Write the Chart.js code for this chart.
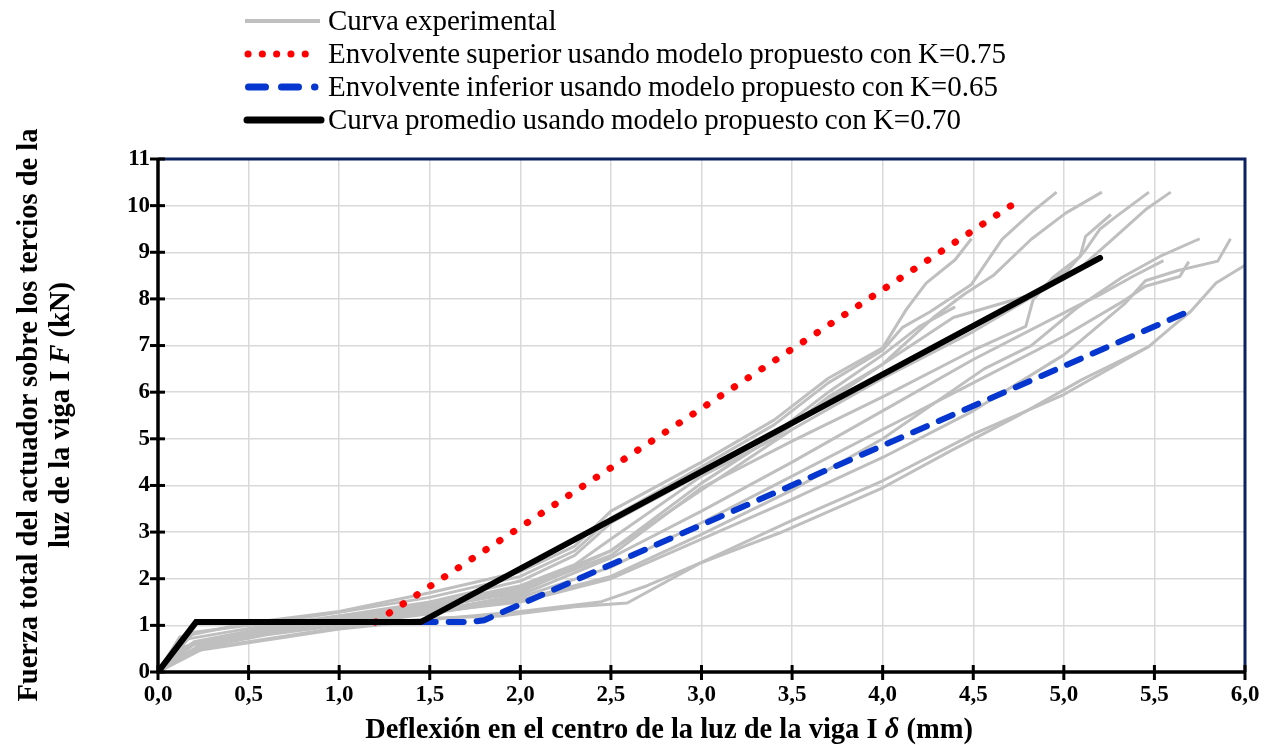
<!DOCTYPE html>
<html>
<head>
<meta charset="utf-8">
<script src="https://cdn.jsdelivr.net/npm/chart.js@4.4.1/dist/chart.umd.min.js"></script>
<style>
  html,body{margin:0;padding:0;background:#fff;}
  #wrap{position:relative;width:1273px;height:745px;overflow:hidden;}
  canvas{position:absolute;left:0;top:0;}
  .lg{position:absolute;left:243px;top:4px;font-family:"Liberation Serif","Times New Roman",serif;font-size:29px;color:#000;}
  .lg .row{height:33px;display:flex;align-items:center;white-space:nowrap;word-spacing:-1px;}
  .lg svg{width:82px;height:20px;margin-right:3px;flex:none;}
  .ytitle{position:absolute;width:700px;height:64px;left:-306px;top:383px;transform:rotate(-90deg);
    font-family:"Liberation Serif","Times New Roman",serif;font-weight:bold;font-size:28.5px;line-height:32px;text-align:center;white-space:nowrap;}
  .xtitle{position:absolute;left:269px;width:800px;top:713px;text-align:center;
    font-family:"Liberation Serif","Times New Roman",serif;font-weight:bold;font-size:28.5px;white-space:nowrap;}
</style>
</head>
<body>
<div id="wrap">
  <canvas id="c" width="1273" height="745"></canvas>
  <div class="lg" id="legend"></div>
  <div class="ytitle">Fuerza total del actuador sobre los tercios de la<br>luz de la viga I <i>F</i> (kN)</div>
  <div class="xtitle">Deflexión en el centro de la luz de la viga I <i>δ</i> (mm)</div>
</div>
<script>
// ---- tick labels ----
const xTickLabels = ['0,0','0,5','1,0','1,5','2,0','2,5','3,0','3,5','4,0','4,5','5,0','5,5','6,0'];
const yTickLabels = ['0','1','2','3','4','5','6','7','8','9','10','11'];

// ---- series names ----
const seriesNames = [
  'Curva experimental',
  'Envolvente superior usando modelo propuesto con K=0.75',
  'Envolvente inferior usando modelo propuesto con K=0.65',
  'Curva promedio usando modelo propuesto con K=0.70'
];

// ---- model curves [deflection mm, force kN] ----
const upperEnvelope = [[1.20,1.07],[4.72,10.03]];
const lowerEnvelope = [[1.45,1.07],[1.72,1.07],[1.80,1.11],[5.70,7.75]];
const averageCurve  = [[0,0],[0.21,1.07],[1.45,1.07],[5.20,8.88]];

// ---- experimental curves ----
const exp1  = [[0,0],[0.12,0.75],[0.5,1.05],[1.0,1.3],[1.5,1.7],[2.0,2.15],[2.3,2.7],[2.5,3.45],[3.0,4.5],[3.4,5.4],[3.7,6.3],[4.0,6.95],[4.13,7.77],[4.24,8.34],[4.40,8.84],[4.49,9.29]];
const exp2  = [[0,0],[0.2,0.85],[0.6,1.05],[1.0,1.28],[1.5,1.6],[2.0,2.05],[2.3,2.6],[2.5,3.3],[3.0,4.4],[3.4,5.3],[3.7,6.2],[4.0,6.9],[4.11,7.39],[4.26,7.72],[4.49,8.31],[4.66,9.28],[4.83,9.88],[4.96,10.29]];
const exp3  = [[0,0],[0.15,0.7],[0.6,1.0],[1.0,1.2],[1.5,1.5],[2.0,1.95],[2.3,2.5],[2.5,3.2],[3.0,4.25],[3.4,5.1],[3.7,6.0],[4.0,6.8],[4.2,7.4],[4.40,7.83]];
const exp4  = [[0,0],[0.18,0.6],[0.6,0.95],[1.0,1.2],[1.5,1.45],[2.0,1.85],[2.3,2.3],[2.5,2.85],[3.0,4.2],[3.4,5.0],[3.7,5.9],[4.0,6.6],[4.28,7.6],[4.45,8.1],[4.61,8.5],[4.82,9.28],[5.01,9.84],[5.21,10.29]];
const exp5  = [[0,0],[0.1,0.5],[0.5,0.85],[1.0,1.1],[1.5,1.35],[2.0,1.75],[2.5,2.5],[3.0,3.95],[3.5,4.95],[4.0,5.9],[4.5,6.9],[4.79,7.41],[4.83,7.98],[4.94,8.46],[5.09,8.91],[5.12,9.34],[5.26,9.81]];
const exp6  = [[0,0],[0.2,0.65],[0.6,0.95],[1.0,1.15],[1.5,1.4],[2.0,1.8],[2.5,2.6],[3.0,4.05],[3.5,5.3],[4.0,6.6],[4.39,7.6],[4.82,8.09],[5.02,8.61],[5.12,9.05],[5.20,9.5],[5.29,9.77],[5.47,10.29]];
const exp7  = [[0,0],[0.15,0.55],[0.6,0.9],[1.0,1.15],[1.5,1.4],[2.0,1.7],[2.5,2.6],[3.0,3.9],[3.5,5.2],[4.0,6.3],[4.5,7.3],[4.85,8.1],[5.1,8.7],[5.27,9.28],[5.45,9.91],[5.59,10.29]];
const exp8  = [[0,0],[0.2,0.6],[0.6,0.9],[1.0,1.1],[1.5,1.3],[2.0,1.65],[2.5,2.45],[3.0,3.45],[3.5,4.5],[4.0,5.6],[4.5,6.7],[5.07,7.84],[5.20,8.09],[5.38,8.48],[5.55,8.82]];
const exp9  = [[0,0],[0.22,0.55],[0.6,0.85],[1.0,1.05],[1.5,1.3],[2.0,1.6],[2.5,2.25],[3.0,3.2],[3.5,4.2],[4.0,5.2],[4.5,6.2],[5.0,7.2],[5.34,7.98],[5.45,8.27],[5.64,8.48],[5.69,8.8]];
const exp10 = [[0,0],[0.2,0.5],[0.6,0.8],[1.0,1.0],[1.5,1.25],[2.0,1.55],[2.5,2.05],[3.0,2.95],[3.5,3.9],[4.0,5.0],[4.56,6.5],[4.82,7.0],[5.07,7.80],[5.32,8.46],[5.53,8.91],[5.75,9.29]];
const exp11 = [[0,0],[0.25,0.6],[0.6,0.85],[1.0,1.05],[1.5,1.28],[2.0,1.5],[2.5,2.0],[3.0,2.85],[3.5,3.7],[4.0,4.6],[4.5,5.6],[5.0,6.8],[5.34,7.91],[5.45,8.39],[5.63,8.61],[5.85,8.81],[5.92,9.29]];
const exp12 = [[0,0],[0.25,0.5],[1.0,0.95],[1.5,1.15],[1.89,1.2],[2.3,1.4],[2.59,1.48],[2.99,2.33],[3.43,2.98],[4.0,3.95],[4.37,4.73],[4.74,5.48],[5.10,6.27],[5.47,6.98],[5.60,7.41],[5.70,7.73],[5.84,8.34],[6.0,8.72]];
const exp13 = [[0,0],[0.2,0.45],[1.0,0.92],[1.5,1.12],[2.0,1.3],[2.44,1.5],[2.7,1.85],[3.0,2.35],[3.5,3.25],[4.0,4.1],[4.5,5.1],[5.0,5.95],[5.47,6.98]];

const experimentalCurves = [exp1,exp2,exp3,exp4,exp5,exp6,exp7,exp8,exp9,exp10,exp11,exp12,exp13];

const GRAY = '#bfbfbf', RED = '#ff0000', BLUE = '#0536cf', BLACK = '#000000', NAVY = '#0b2160';
const toXY = arr => arr.map(p => ({x:p[0], y:p[1]}));

const datasets = [];
datasets.push({label:seriesNames[3], data:toXY(averageCurve), borderColor:BLACK, borderWidth:6, order:0, borderCapStyle:'round', borderJoinStyle:'miter'});
datasets.push({label:seriesNames[2], data:toXY(lowerEnvelope), borderColor:BLUE, borderWidth:6, borderDash:[15,13], borderCapStyle:'round', order:1});
datasets.push({label:seriesNames[1], data:toXY(upperEnvelope), borderColor:RED, borderWidth:7, borderDash:[0.5,16], borderCapStyle:'round', order:2});
experimentalCurves.forEach((c,i) => datasets.push({label:seriesNames[0], data:toXY(c), borderColor:GRAY, borderWidth:3, order:3+i, borderJoinStyle:'round'}));
datasets.forEach(d => { d.showLine = true; d.pointRadius = 0; d.pointHoverRadius = 0; d.fill = false; d.tension = 0; });

const PL = 158, PR = 1245, PT = 159, PB = 672, W = 1273, H = 745;

const framePlugin = {
  id:'frame',
  afterDatasetsDraw(chart){
    const ctx = chart.ctx, a = chart.chartArea, xs = chart.scales.x, ys = chart.scales.y;
    ctx.save();
    ctx.strokeStyle = NAVY; ctx.lineWidth = 3;
    ctx.beginPath(); ctx.moveTo(a.left, a.top); ctx.lineTo(a.right, a.top); ctx.lineTo(a.right, a.bottom); ctx.stroke();
    ctx.strokeStyle = BLACK; ctx.lineWidth = 3.5;
    ctx.beginPath(); ctx.moveTo(a.left, a.top); ctx.lineTo(a.left, a.bottom); ctx.lineTo(a.right, a.bottom); ctx.stroke();
    ctx.lineWidth = 3;
    ys.ticks.forEach(t => { const y = ys.getPixelForValue(t.value); ctx.beginPath(); ctx.moveTo(a.left-8, y); ctx.lineTo(a.left+7, y); ctx.stroke(); });
    xs.ticks.forEach(t => { const x = xs.getPixelForValue(t.value); ctx.beginPath(); ctx.moveTo(x, a.bottom-7); ctx.lineTo(x, a.bottom+8); ctx.stroke(); });
    ctx.restore();
  }
};

const tickFont = {family:'"Liberation Serif","Times New Roman",serif', size:23, weight:'bold'};

new Chart(document.getElementById('c'), {
  type:'scatter',
  data:{datasets},
  options:{
    responsive:false, animation:false, devicePixelRatio:1,
    layout:{padding:{left:0, top:PT, right:W-PR, bottom:0}},
    plugins:{legend:{display:false}, tooltip:{enabled:false}, title:{display:false}},
    scales:{
      x:{type:'linear', min:0, max:6,
        ticks:{stepSize:0.5, color:'#000', font:tickFont, padding:1, maxRotation:0, autoSkip:false,
          callback:(v,i)=>xTickLabels[i]},
        grid:{color:'#d9d9d9', lineWidth:1.5, drawTicks:true, tickLength:8, tickColor:'rgba(0,0,0,0)'},
        border:{display:false},
        afterFit:s=>{ s.height = H - PB; }
      },
      y:{type:'linear', min:0, max:11,
        ticks:{stepSize:1, color:'#000', font:tickFont, padding:0, autoSkip:false,
          callback:(v,i)=>yTickLabels[i]},
        grid:{color:'#d9d9d9', lineWidth:1.5, drawTicks:true, tickLength:8, tickColor:'rgba(0,0,0,0)'},
        border:{display:false},
        afterFit:s=>{ s.width = PL; }
      }
    }
  },
  plugins:[framePlugin]
});

// ---- HTML legend built from series names ----
const swatches = [
  '<svg viewBox="0 0 82 20"><line x1="2" y1="10" x2="77" y2="10" stroke="'+GRAY+'" stroke-width="4"/></svg>',
  '<svg viewBox="0 0 82 20"><line x1="5" y1="10" x2="76" y2="10" stroke="'+RED+'" stroke-width="7" stroke-linecap="round" stroke-dasharray="0.1 14.2"/></svg>',
  '<svg viewBox="0 0 82 20"><line x1="5.5" y1="10" x2="72" y2="10" stroke="'+BLUE+'" stroke-width="7" stroke-linecap="round" stroke-dasharray="17 16"/></svg>',
  '<svg viewBox="0 0 82 20"><line x1="4" y1="10" x2="78" y2="10" stroke="'+BLACK+'" stroke-width="7" stroke-linecap="round"/></svg>'
];
document.getElementById('legend').innerHTML = seriesNames.map((n,i)=>'<div class="row">'+swatches[i]+'<span>'+n+'</span></div>').join('');
</script>
</body>
</html>
